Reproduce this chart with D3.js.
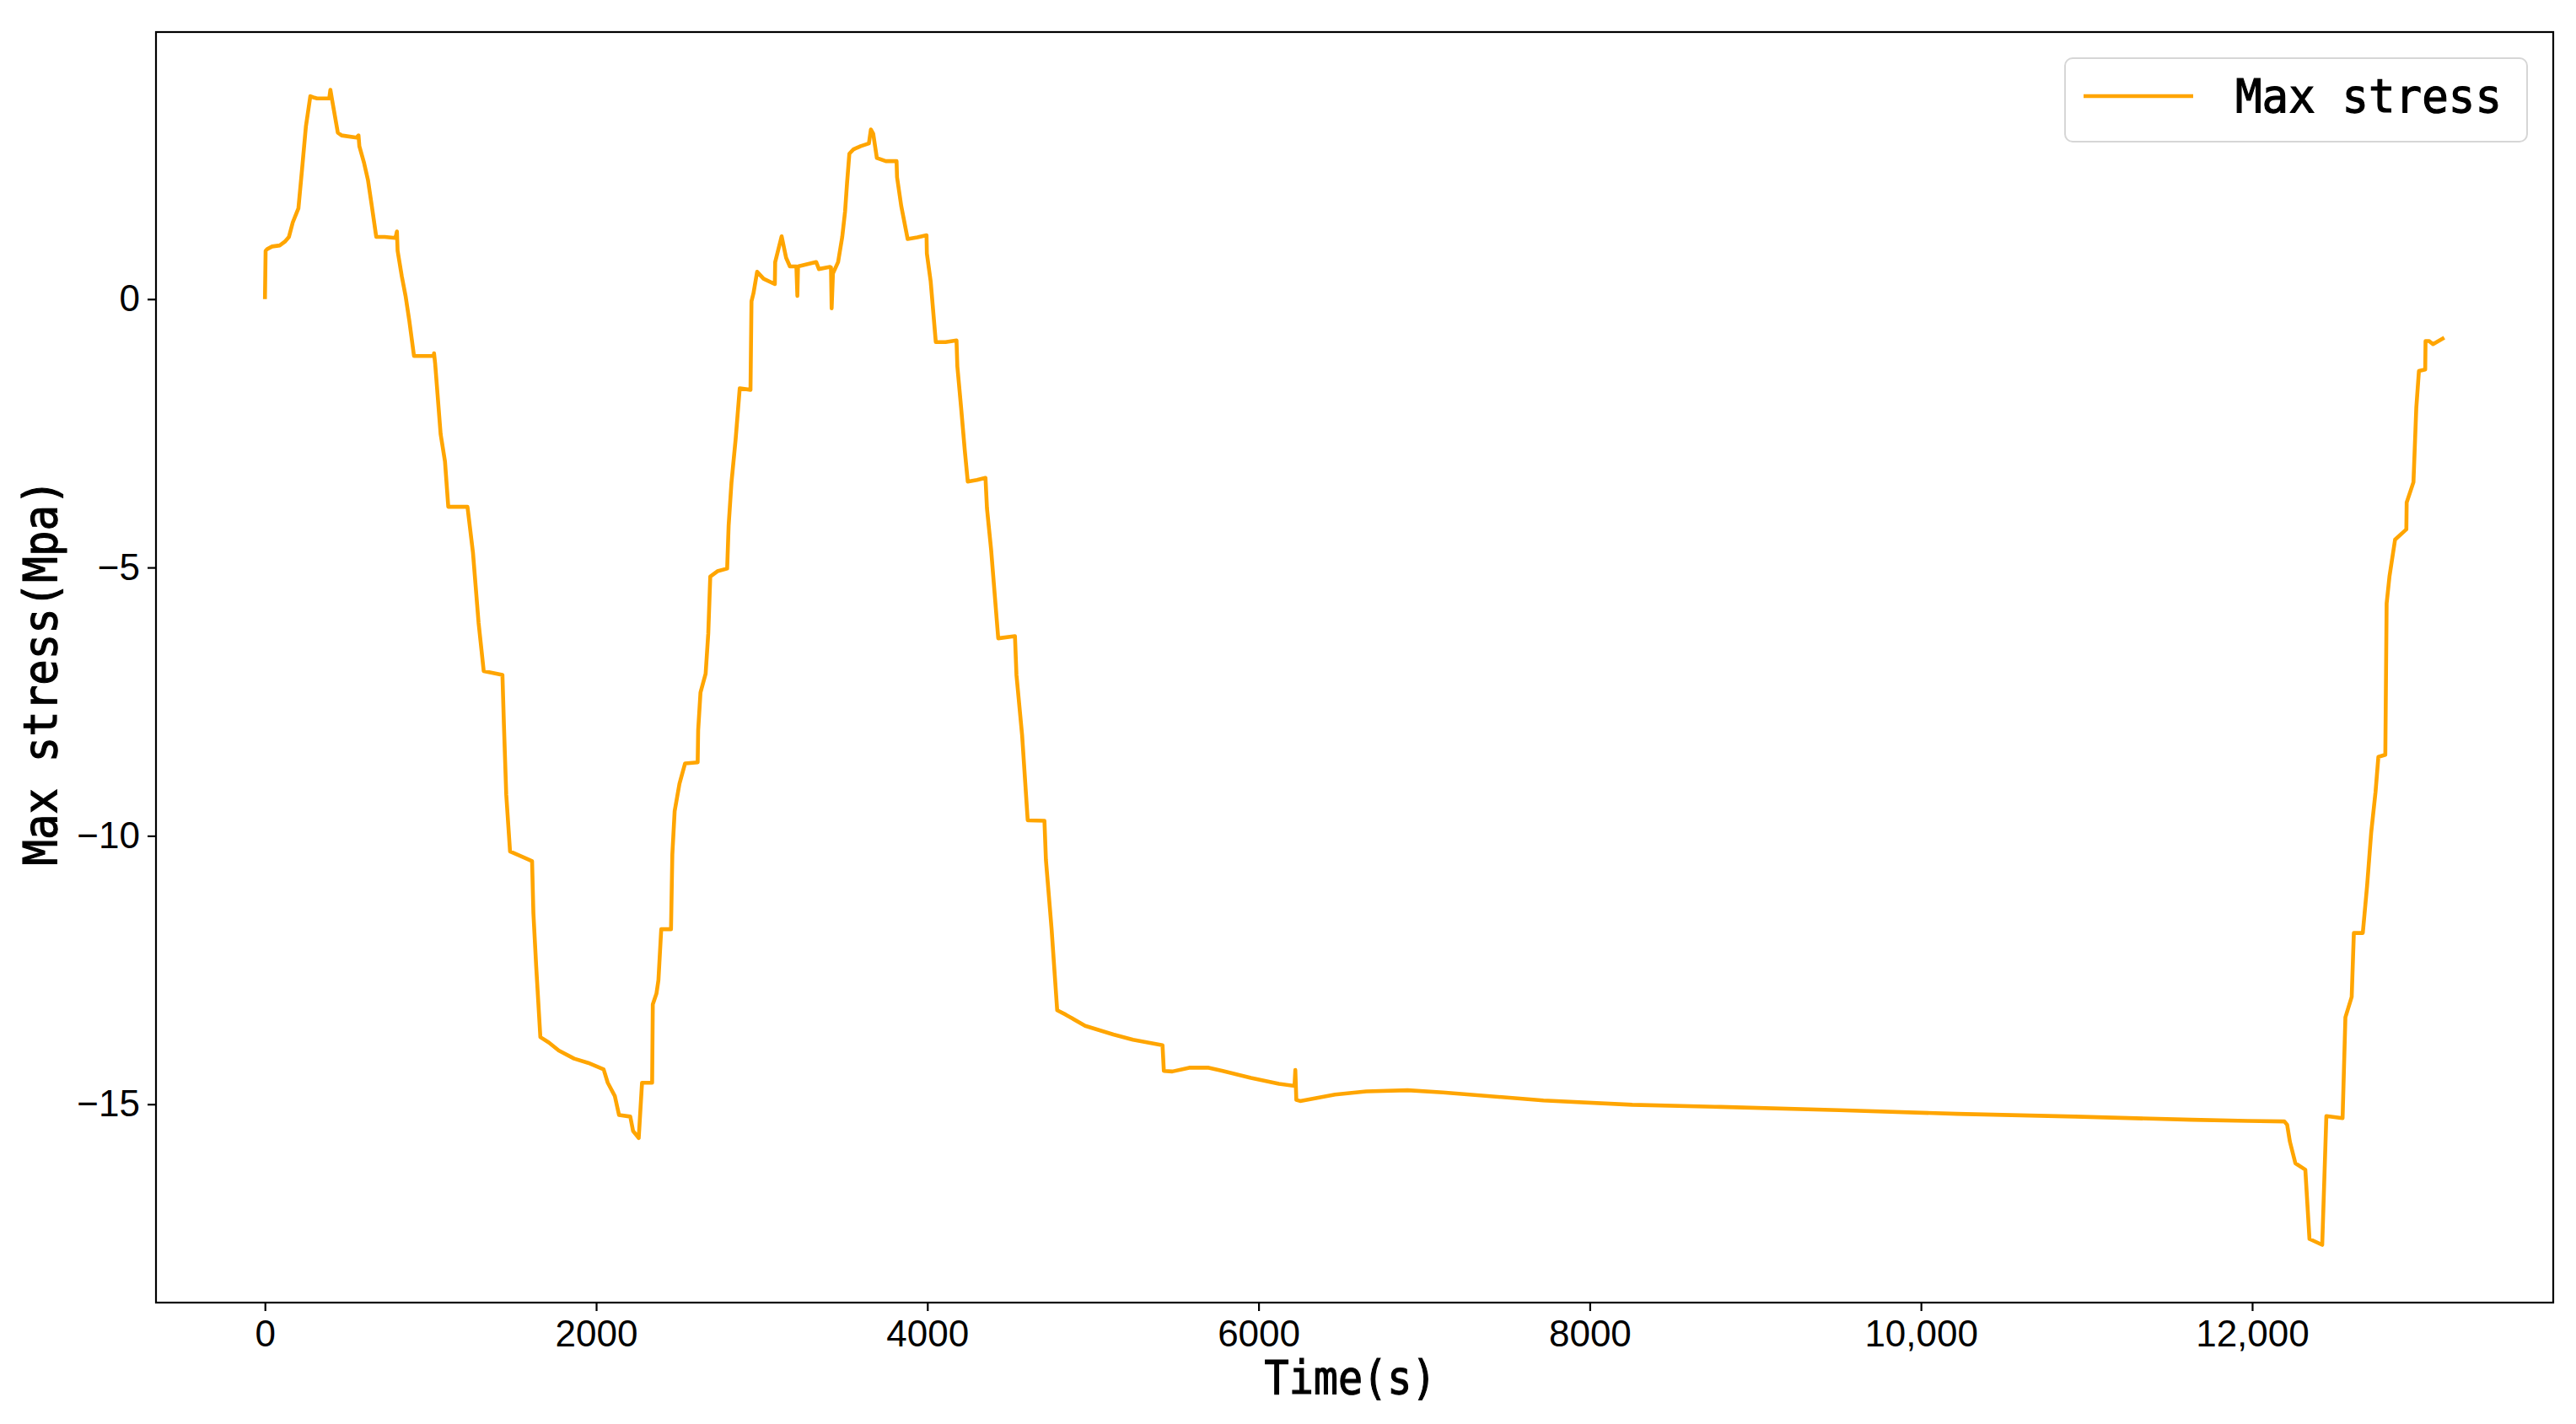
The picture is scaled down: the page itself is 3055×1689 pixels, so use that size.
<!DOCTYPE html>
<html>
<head>
<meta charset="utf-8">
<script src="https://cdn.jsdelivr.net/npm/d3@7"></script>
<style>
  body { margin: 0; background: #fff; }
</style>
</head>
<body>
<div id="vis-container"></div>
<script>
// time (s) and max stress (MPa)
const timeS = [
  0, 4, 13, 43, 89, 120, 145, 168, 202, 224, 247, 274, 292, 315, 388, 395, 406, 440, 463, 554,
  565, 570, 599, 622, 645, 672, 723, 788, 797, 801, 826, 849, 872, 900,
  1019, 1021, 1028, 1061, 1087, 1107, 1223, 1256, 1290, 1321, 1434, 1443, 1457, 1480, 1613, 1621,
  1638, 1663, 1714, 1774, 1867, 1952, 2045, 2070, 2113, 2138, 2206, 2223, 2257, 2277, 2338, 2342,
  2364, 2376, 2393, 2452, 2460, 2474, 2503, 2537, 2613, 2616, 2630, 2661, 2677, 2689, 2732, 2791,
  2800, 2817, 2842, 2867, 2932, 2938, 2950, 2972,
  3011, 3079, 3081, 3120, 3147, 3170, 3209, 3215, 3219, 3329, 3345, 3413, 3418, 3422, 3430, 3461,
  3486, 3503, 3515, 3529, 3554, 3597, 3647, 3659, 3673, 3695, 3749, 3814, 3817, 3842, 3881, 3940,
  3995, 3997, 4020, 4051, 4110, 4176, 4181, 4204, 4226, 4244, 4300, 4351, 4360, 4385, 4428, 4529,
  4538, 4572, 4606, 4707, 4716, 4750, 4784, 4835, 4953, 5123, 5242, 5420, 5428, 5479, 5581, 5699,
  5784, 5954, 6123, 6217, 6222, 6228, 6251, 6462, 6650, 6900, 7114, 7720, 8256, 8791, 9505, 10218,
  10932, 11634, 11973, 12194, 12211, 12228, 12261, 12321, 12346, 12423, 12448, 12546, 12563, 12601,
  12614, 12668, 12694, 12719, 12745, 12762, 12804, 12812, 12829, 12863, 12931, 12933, 12974, 12991,
  13007, 13045, 13047, 13067, 13092, 13160
];
const maxStress = [
  0, 0.90, 0.93, 0.98, 1.00, 1.07, 1.16, 1.43, 1.69, 2.42, 3.21, 3.78, 3.76, 3.74, 3.74, 3.90, 3.70, 3.10, 3.05, 3.01,
  3.05, 2.85, 2.53, 2.22, 1.74, 1.16, 1.16, 1.14, 1.26, 0.90, 0.43, 0.06, -0.41, -1.06,
  -1.06, -1.01, -1.21, -2.52, -3.02, -3.87, -3.87, -4.72, -6.03, -6.93, -7.00, -7.93, -9.23, -10.29, -10.47, -11.44,
  -12.44, -13.75, -13.85, -14.00, -14.15, -14.23, -14.35, -14.60, -14.85, -15.20, -15.23, -15.50, -15.63, -14.60, -14.60, -13.14,
  -12.94, -12.69, -11.74, -11.74, -10.34, -9.54, -9.03, -8.65, -8.63, -8.03, -7.33, -6.98, -6.23, -5.17, -5.07, -5.02,
  -4.22, -3.42, -2.62, -1.66, -1.69, -0.04, 0.11, 0.51,
  0.38, 0.28, 0.69, 1.17, 0.77, 0.61, 0.61, 0.06, 0.61, 0.69, 0.56, 0.60, 0.59, -0.17, 0.48, 0.69,
  1.16, 1.63, 2.16, 2.71, 2.79, 2.85, 2.90, 3.16, 3.08, 2.63, 2.57, 2.57, 2.27, 1.74, 1.12, 1.15,
  1.19, 0.85, 0.33, -0.80, -0.80, -0.77, -1.25, -2.03, -2.82, -3.40, -3.37, -3.33, -3.90, -4.67, -6.32, -6.28,
  -7.00, -8.12, -9.71, -9.72, -10.45, -11.73, -13.25, -13.33, -13.54, -13.70, -13.80, -13.90, -14.38, -14.39, -14.32, -14.32,
  -14.38, -14.51, -14.62, -14.66, -14.36, -14.92, -14.94, -14.82, -14.76, -14.74, -14.78, -14.93, -15.01, -15.05, -15.11, -15.18,
  -15.23, -15.29, -15.31, -15.32, -15.38, -15.70, -16.10, -16.22, -17.51, -17.62, -15.22, -15.26, -13.38, -13.00,
  -11.81, -11.81, -10.93, -9.93, -9.18, -8.53, -8.49, -5.67, -5.17, -4.48, -4.29, -3.79, -3.41, -2.03,
  -1.34, -1.31, -0.78, -0.78, -0.84, -0.72
];

const xTicks = [0, 2000, 4000, 6000, 8000, 10000, 12000];
const xTickLabels = ["0", "2000", "4000", "6000", "8000", "10,000", "12,000"];
const yTicks = [-15, -10, -5, 0];
const yTickLabels = ["\u221215", "\u221210", "\u22125", "0"];

const seriesName = "Max stress";

const W = 3055, H = 1689;
const margin = { top: 38, right: 27, bottom: 144, left: 185 },
      width = W - margin.left - margin.right,
      height = H - margin.top - margin.bottom;

const data = timeS.map((t, i) => ({ t: t, v: maxStress[i] }));

const svg = d3.select("#vis-container")
  .append("svg")
    .attr("width", W)
    .attr("height", H)
  .append("g")
    .attr("transform", `translate(${margin.left},${margin.top})`);

// matplotlib style 5% padding
const xExt = d3.extent(timeS), yExt = d3.extent(maxStress);
const xPad = (xExt[1] - xExt[0]) * 0.05, yPad = (yExt[1] - yExt[0]) * 0.05;

const x = d3.scaleLinear()
  .domain([xExt[0] - xPad, xExt[1] + xPad])
  .range([0, width]);

const y = d3.scaleLinear()
  .domain([yExt[0] - yPad, yExt[1] + yPad])
  .range([height, 0]);

const tickFont = "'Liberation Sans', Arial, sans-serif";
const labelFont = "'DejaVu Sans Mono', 'Liberation Mono', monospace";

// Axes
const xAxis = svg.append("g")
  .attr("transform", `translate(0,${height})`)
  .call(d3.axisBottom(x)
    .tickValues(xTicks)
    .tickFormat((d, i) => xTickLabels[i])
    .tickSize(10)
    .tickSizeOuter(0)
    .tickPadding(11));

const yAxis = svg.append("g")
  .call(d3.axisLeft(y)
    .tickValues(yTicks)
    .tickFormat((d, i) => yTickLabels[i])
    .tickSize(10)
    .tickSizeOuter(0)
    .tickPadding(9));

[xAxis, yAxis].forEach(ax => {
  ax.select(".domain").remove();
  ax.selectAll(".tick line").attr("stroke", "#000").attr("stroke-width", 2.2);
  ax.selectAll(".tick text")
    .attr("fill", "#000")
    .style("font-family", tickFont)
    .style("font-size", "44px");
});

// Line
svg.append("path")
  .datum(data)
  .attr("fill", "none")
  .attr("stroke", "#FFA500")
  .attr("stroke-width", 4.6)
  .attr("stroke-linejoin", "round")
  .attr("d", d3.line().x(d => x(d.t)).y(d => y(d.v)));

// Frame
svg.append("rect")
  .attr("width", width)
  .attr("height", height)
  .attr("fill", "none")
  .attr("stroke", "#000")
  .attr("stroke-width", 2.2);

// Axis labels (heavier, narrow glyphs like the original CJK font)
svg.append("text")
  .attr("x", width / 2 - 5)
  .attr("y", height + 108)
  .attr("text-anchor", "middle")
  .attr("textLength", 204)
  .attr("lengthAdjust", "spacingAndGlyphs")
  .attr("stroke", "#000")
  .attr("stroke-width", 1.2)
  .style("font-family", labelFont)
  .style("font-size", "55px")
  .text("Time(s)");

svg.append("text")
  .attr("transform", `translate(${-118},${height / 2 + 6}) rotate(-90)`)
  .attr("text-anchor", "middle")
  .attr("textLength", 458)
  .attr("lengthAdjust", "spacingAndGlyphs")
  .attr("stroke", "#000")
  .attr("stroke-width", 1.2)
  .style("font-family", labelFont)
  .style("font-size", "55px")
  .text("Max stress(Mpa)");

// Legend
const legend = svg.append("g")
  .attr("transform", `translate(${2449 - margin.left},${69 - margin.top})`);

legend.append("rect")
  .attr("width", 548)
  .attr("height", 99)
  .attr("rx", 9)
  .attr("fill", "#fff")
  .attr("fill-opacity", 0.8)
  .attr("stroke", "#d6d6d6")
  .attr("stroke-width", 2);

legend.append("line")
  .attr("x1", 22).attr("x2", 152)
  .attr("y1", 45).attr("y2", 45)
  .attr("stroke", "#FFA500")
  .attr("stroke-width", 4.6);

legend.append("text")
  .attr("x", 202)
  .attr("y", 64)
  .attr("textLength", 316)
  .attr("lengthAdjust", "spacingAndGlyphs")
  .attr("stroke", "#000")
  .attr("stroke-width", 1.2)
  .style("font-family", labelFont)
  .style("font-size", "55px")
  .text(seriesName);
</script>
</body>
</html>
